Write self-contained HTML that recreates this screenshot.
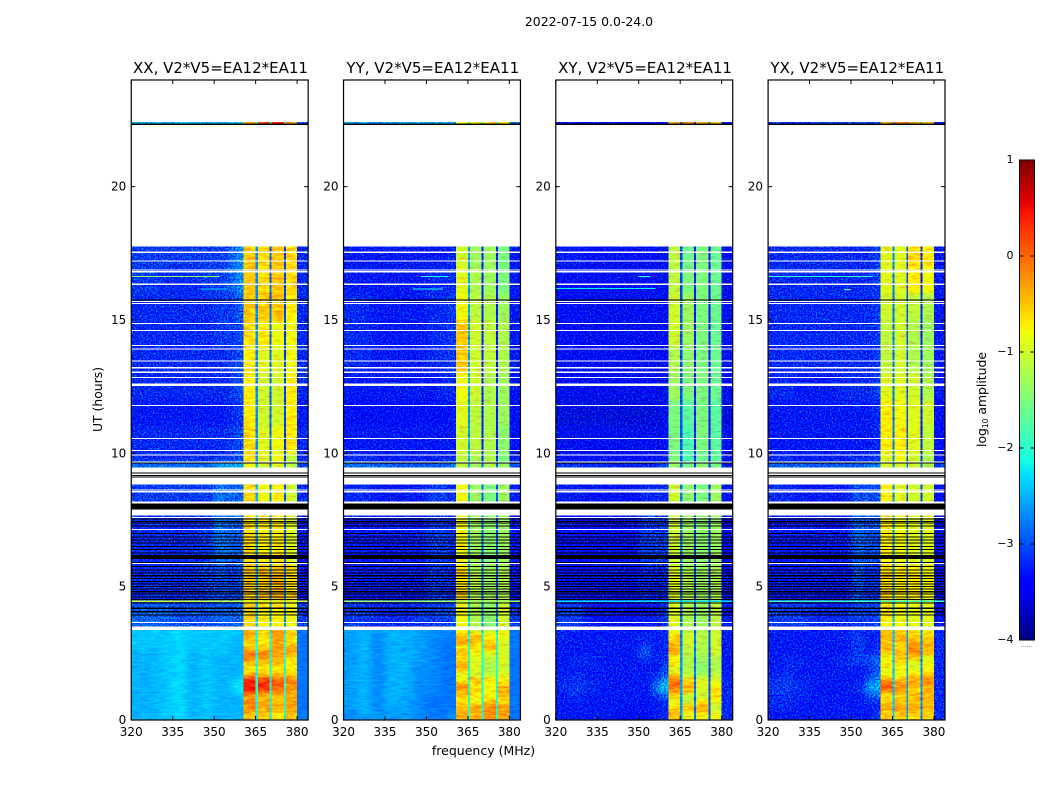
<!DOCTYPE html>
<html lang="en">
<head>
<meta charset="utf-8">
<title>2022-07-15 dynamic spectra</title>
<style>
html,body{margin:0;padding:0;background:#fff;}
svg{display:block;font-family:"DejaVu Sans","Liberation Sans",sans-serif;fill:#000;}
</style>
</head>
<body>
<svg id="figure" xmlns="http://www.w3.org/2000/svg" width="1050" height="800" viewBox="0 0 1050 800">
<defs>
<filter id="noise-strong" filterUnits="userSpaceOnUse" x="120" y="70" width="840" height="660" color-interpolation-filters="sRGB">
<feGaussianBlur in="SourceGraphic" stdDeviation="3 2.5" result="b0"/>
<feColorMatrix in="b0" type="matrix" values="1 0 0 0 0  0 1 0 0 0  0 0 1 0 0  0 0 0 0 1" result="b"/>
<feTurbulence type="fractalNoise" baseFrequency="0.62" numOctaves="2" seed="4" result="t"/>
<feColorMatrix in="t" type="matrix" values="0 0 0 0 0.5  1 0 0 0 0  0 0.6 0 0 0.2  0 0 0 0 1" result="n"/>
<feComposite in="b" in2="n" operator="arithmetic" k1="0" k2="1" k3="1.5" k4="-0.75" result="c"/>
<feComposite in="c" in2="SourceGraphic" operator="in"/>
</filter>
<filter id="noise-soft" filterUnits="userSpaceOnUse" x="120" y="70" width="840" height="660" color-interpolation-filters="sRGB">
<feGaussianBlur in="SourceGraphic" stdDeviation="0 2.5" result="b0"/>
<feColorMatrix in="b0" type="matrix" values="1 0 0 0 0  0 1 0 0 0  0 0 1 0 0  0 0 0 0 1" result="b"/>
<feTurbulence type="fractalNoise" baseFrequency="0.12 0.45" numOctaves="2" seed="9" result="t"/>
<feColorMatrix in="t" type="matrix" values="0 0 0 0 0.5  1 0 0 0 0  0 0 0 0 0.5  0 0 0 0 1" result="n"/>
<feComposite in="b" in2="n" operator="arithmetic" k1="0" k2="1" k3="0.6" k4="-0.3" result="c"/>
<feComposite in="c" in2="SourceGraphic" operator="in"/>
</filter>
<filter id="noise-smooth" filterUnits="userSpaceOnUse" x="120" y="70" width="840" height="660" color-interpolation-filters="sRGB">
<feGaussianBlur in="SourceGraphic" stdDeviation="4 2.5" result="b0"/>
<feColorMatrix in="b0" type="matrix" values="1 0 0 0 0  0 1 0 0 0  0 0 1 0 0  0 0 0 0 1" result="b"/>
<feTurbulence type="fractalNoise" baseFrequency="0.1 0.5" numOctaves="2" seed="2" result="t"/>
<feColorMatrix in="t" type="matrix" values="0 0 0 0 0.5  1 0 0 0 0  0 0 0 0 0.5  0 0 0 0 1" result="n"/>
<feComposite in="b" in2="n" operator="arithmetic" k1="0" k2="1" k3="0.3" k4="-0.15" result="c"/>
<feComposite in="c" in2="SourceGraphic" operator="in"/>
</filter>
</defs>
<text x="589" y="26" text-anchor="middle" font-size="12.45">2022-07-15 0.0-24.0</text>
<text x="483.5" y="755" text-anchor="middle" font-size="12.5">frequency (MHz)</text>
<text transform="translate(102 399.5) rotate(-90)" text-anchor="middle" font-size="12.4">UT (hours)</text>
<text transform="translate(986 399.5) rotate(-90)" text-anchor="middle" font-size="12.4">log<tspan font-size="7.5" dy="2">10</tspan><tspan dy="-2"> amplitude</tspan></text>
<text x="1026.5" y="647" text-anchor="middle" font-size="6" fill="#555">......</text>
</svg>
<script>
// Frequency column edges in MHz: nine background columns, then band / notch pairs, then the tail.
const freqEdges = [320,325,330,335,340,345,350,355,358,360.7,365,365.8,370,370.7,375.2,375.9,380,384];
// Time blocks in UT hours.
const epochStart = [0,0.2,0.4,0.6,0.8,1,1.2,1.4,1.6,1.8,2,2.2,2.4,2.6,2.8,3,3.2,3.37,4.4,5.8,8.18,9.47,9.65,10,11,12,13,14,15,16,17,22.375];
const epochEnd = [0.2,0.4,0.6,0.8,1,1.2,1.4,1.6,1.8,2,2.2,2.4,2.6,2.8,3,3.2,3.37,4.4,5.8,7.675,8.85,9.65,10,11,12,13,14,15,16,17,17.75,22.43];
// log10 amplitude x 10, one row per time block, one value per frequency column.
const xxLevels = [
[-25,-25,-24,-23,-25,-24,-25,-25,-25,-5,-20,-6,-21,-7,-20,-5,-28],
[-25,-25,-24,-23,-25,-24,-25,-25,-25,-3,-20,-4,-21,-6,-20,-4,-28],
[-25,-25,-24,-23,-25,-24,-25,-25,-25,-2,-20,-3,-21,-3,-20,-3,-28],
[-25,-25,-24,-23,-25,-24,-25,-25,-25,-1,-20,-3,-21,-5,-20,-3,-28],
[-25,-25,-24,-23,-25,-24,-25,-25,-24,-4,-20,-6,-21,-5,-20,-4,-28],
[-25,-25,-24,-23,-25,-24,-25,-24,-22,4,-20,2,-21,-1,-20,-3,-28],
[-25,-25,-24,-23,-25,-24,-25,-24,-22,4,-20,3,-21,1,-20,-2,-28],
[-25,-25,-24,-23,-25,-24,-25,-24,-23,4,-20,3,-21,1,-20,-1,-28],
[-25,-25,-24,-23,-25,-24,-25,-25,-24,-4,-20,-5,-21,-5,-20,-6,-28],
[-25,-25,-24,-23,-25,-24,-25,-25,-25,-7,-20,-7,-21,-7,-20,-7,-28],
[-25,-25,-24,-23,-25,-24,-25,-25,-25,-5,-20,-6,-21,-5,-20,-7,-28],
[-25,-25,-24,-23,-25,-24,-25,-25,-25,-2,-20,-3,-21,-4,-20,-7,-28],
[-25,-25,-24,-23,-25,-24,-24,-25,-25,-1,-20,-1,-21,-3,-20,-3,-28],
[-24,-24,-24,-23,-24,-24,-24,-25,-25,-5,-20,-6,-21,-3,-20,-3,-28],
[-24,-24,-24,-23,-24,-24,-24,-24,-25,-6,-20,-7,-21,-4,-20,-6,-28],
[-24,-24,-24,-23,-24,-24,-24,-24,-25,-4,-20,-6,-21,-3,-20,-6,-28],
[-24,-24,-24,-23,-24,-24,-24,-24,-24,-3,-20,-5,-21,-2,-20,-5,-28],
[-29,-29,-29,-30,-30,-30,-29,-29,-29,-6,-24,-7,-26,-7,-27,-8,-31],
[-32,-32,-32,-32,-32,-31,-30,-31,-30,-5,-26,-5,-28,-4,-28,-6,-33],
[-32,-32,-32,-32,-32,-31,-28,-29,-29,-6,-26,-7,-28,-7,-29,-9,-33],
[-31,-31,-31,-31,-31,-31,-28,-29,-29,-6,-25,-8,-28,-7,-29,-10,-32],
[-28,-28,-28,-28,-28,-28,-25,-25,-24,-8,-25,-10,-27,-9,-28,-11,-30],
[-32,-32,-32,-32,-32,-32,-31,-31,-30,-6,-27,-9,-29,-8,-31,-11,-32],
[-32,-32,-32,-32,-32,-32,-32,-31,-30,-6,-27,-9,-29,-8,-31,-7,-32],
[-33,-33,-33,-33,-33,-33,-33,-32,-31,-7,-27,-10,-29,-10,-31,-7,-33],
[-32,-32,-32,-32,-32,-32,-32,-31,-30,-7,-27,-10,-29,-10,-31,-7,-32],
[-32,-32,-32,-32,-32,-32,-32,-31,-30,-7,-27,-9,-29,-9,-31,-8,-32],
[-32,-32,-32,-32,-32,-32,-31,-31,-30,-6,-27,-7,-29,-8,-31,-8,-32],
[-32,-32,-32,-32,-32,-32,-31,-31,-29,-5,-27,-5,-29,-5,-31,-7,-32],
[-31,-31,-32,-32,-32,-31,-31,-29,-27,-5,-27,-6,-29,-5,-31,-6,-32],
[-31,-31,-31,-31,-31,-31,-31,-29,-27,-5,-27,-6,-29,-5,-31,-6,-32],
[-25,-25,-25,-25,-25,-25,-24,-24,-24,-2,-20,3,-20,4,-20,-2,-29]
];
const yyLevels = [
[-27,-26,-26,-26,-26,-27,-28,-28,-26,-3,-20,-4,-21,-2,-20,-3,-28],
[-27,-25,-27,-26,-26,-27,-28,-28,-27,-4,-20,-4,-21,-2,-20,-3,-28],
[-26,-25,-27,-25,-26,-27,-28,-28,-28,-5,-20,-3,-21,-2,-20,-2,-28],
[-26,-25,-27,-25,-26,-27,-28,-28,-28,-7,-20,-8,-21,-5,-20,-7,-28],
[-26,-25,-27,-25,-25,-27,-28,-28,-28,-6,-20,-7,-21,-8,-20,-5,-28],
[-26,-25,-27,-25,-25,-27,-27,-28,-28,-3,-20,-6,-21,-8,-20,-3,-28],
[-26,-25,-27,-25,-25,-27,-27,-28,-28,-2,-20,-7,-21,-8,-20,-5,-28],
[-26,-25,-27,-25,-25,-27,-27,-28,-28,-8,-20,-4,-21,-7,-20,-7,-28],
[-26,-25,-27,-25,-25,-27,-27,-28,-28,-9,-20,-10,-21,-11,-20,-9,-28],
[-26,-25,-27,-25,-25,-27,-27,-28,-28,-5,-20,-9,-21,-12,-20,-10,-28],
[-26,-25,-27,-25,-25,-26,-27,-28,-28,-3,-20,-9,-21,-12,-20,-10,-28],
[-26,-25,-27,-25,-25,-26,-27,-28,-28,-7,-20,-9,-21,-11,-20,-9,-28],
[-26,-25,-27,-25,-25,-26,-27,-28,-28,-4,-20,-8,-21,-9,-20,-10,-28],
[-26,-25,-27,-25,-25,-26,-27,-28,-28,-8,-20,-6,-21,-4,-20,-9,-28],
[-26,-25,-27,-25,-25,-26,-27,-28,-28,-3,-20,-5,-21,-6,-20,-10,-28],
[-26,-25,-27,-25,-25,-26,-27,-27,-28,-4,-20,-4,-21,-7,-20,-8,-28],
[-26,-25,-26,-25,-25,-26,-27,-27,-27,-7,-21,-8,-22,-9,-21,-8,-28],
[-31,-31,-32,-32,-32,-31,-31,-31,-30,-8,-23,-12,-27,-14,-28,-10,-31],
[-33,-33,-33,-33,-33,-33,-31,-32,-32,-6,-25,-12,-29,-13,-30,-12,-33],
[-33,-33,-33,-33,-33,-33,-31,-31,-32,-8,-25,-13,-29,-14,-30,-13,-33],
[-32,-32,-33,-33,-33,-33,-31,-31,-32,-8,-25,-13,-29,-15,-30,-13,-33],
[-28,-28,-28,-29,-29,-29,-29,-29,-27,-11,-25,-13,-28,-12,-28,-13,-30],
[-32,-32,-33,-33,-33,-33,-33,-32,-32,-11,-26,-12,-32,-12,-33,-15,-33],
[-33,-33,-33,-33,-33,-33,-33,-33,-33,-10,-26,-11,-32,-12,-33,-14,-34],
[-34,-34,-34,-34,-34,-34,-34,-34,-33,-9,-26,-11,-32,-12,-33,-13,-34],
[-33,-33,-33,-33,-33,-33,-33,-32,-32,-8,-26,-10,-32,-12,-33,-13,-34],
[-32,-32,-33,-33,-33,-33,-32,-32,-31,-5,-26,-10,-32,-11,-33,-12,-33],
[-32,-32,-33,-33,-33,-33,-32,-32,-31,-5,-26,-10,-32,-11,-33,-12,-33],
[-32,-32,-33,-33,-33,-33,-32,-32,-31,-8,-26,-11,-32,-12,-33,-13,-33],
[-33,-33,-33,-33,-33,-33,-32,-32,-32,-9,-26,-12,-32,-13,-33,-15,-33],
[-33,-33,-33,-33,-33,-33,-33,-33,-32,-10,-26,-13,-32,-13,-33,-15,-33],
[-26,-26,-26,-26,-26,-26,-26,-26,-26,-7,-20,-7,-20,-6,-20,-7,-29]
];
const xyLevels = [
[-33,-33,-33,-33,-34,-34,-34,-33,-32,-5,-26,-9,-28,-8,-30,-8,-32],
[-33,-33,-33,-33,-34,-34,-34,-33,-32,-4,-26,-7,-28,-5,-30,-9,-32],
[-33,-33,-33,-33,-33,-34,-34,-33,-32,-7,-26,-4,-28,-4,-30,-11,-32],
[-33,-32,-33,-33,-33,-33,-34,-33,-31,-9,-26,-11,-28,-7,-30,-8,-32],
[-33,-32,-33,-33,-33,-33,-33,-31,-29,-6,-26,-11,-28,-11,-30,-6,-32],
[-32,-31,-32,-33,-33,-33,-33,-28,-25,-2,-26,-5,-28,-10,-30,-6,-32],
[-32,-31,-32,-33,-33,-33,-33,-28,-24,0,-26,-4,-28,-9,-30,-8,-32],
[-32,-32,-32,-33,-33,-33,-33,-30,-26,-1,-26,-6,-28,-9,-30,-9,-32],
[-33,-32,-33,-33,-33,-33,-33,-32,-29,-6,-26,-11,-28,-13,-30,-11,-33],
[-33,-33,-33,-33,-33,-33,-33,-33,-30,-10,-26,-12,-28,-14,-30,-12,-33],
[-33,-32,-32,-33,-33,-33,-33,-33,-31,-6,-26,-12,-28,-14,-30,-12,-33],
[-33,-32,-32,-33,-33,-33,-31,-33,-32,-8,-27,-12,-28,-13,-30,-12,-33],
[-33,-33,-33,-33,-33,-33,-30,-33,-32,-4,-27,-11,-28,-12,-30,-10,-33],
[-33,-33,-33,-33,-33,-33,-30,-33,-32,-3,-27,-11,-28,-12,-30,-10,-33],
[-33,-33,-33,-33,-33,-33,-32,-33,-32,-5,-27,-10,-28,-12,-30,-10,-33],
[-32,-33,-33,-33,-33,-33,-32,-33,-32,-6,-27,-10,-28,-11,-30,-10,-33],
[-33,-33,-33,-33,-33,-33,-33,-33,-32,-8,-27,-11,-28,-12,-30,-10,-33],
[-31,-31,-33,-34,-34,-34,-33,-33,-31,-9,-28,-12,-30,-13,-31,-11,-33],
[-34,-34,-34,-34,-34,-34,-32,-33,-32,-9,-28,-12,-31,-13,-32,-12,-35],
[-34,-34,-34,-34,-34,-34,-31,-31,-31,-10,-28,-13,-31,-14,-32,-13,-35],
[-33,-33,-34,-34,-34,-34,-32,-32,-32,-10,-28,-14,-31,-15,-32,-13,-35],
[-31,-31,-32,-32,-32,-32,-32,-31,-30,-13,-28,-15,-30,-14,-31,-15,-33],
[-34,-34,-34,-34,-34,-34,-34,-34,-33,-15,-30,-18,-33,-16,-34,-17,-35],
[-35,-35,-35,-35,-35,-35,-35,-35,-34,-15,-30,-18,-33,-15,-34,-17,-35],
[-36,-36,-36,-36,-36,-36,-36,-36,-35,-15,-30,-17,-33,-15,-34,-17,-36],
[-35,-35,-35,-35,-35,-35,-35,-35,-35,-13,-30,-15,-33,-15,-34,-16,-35],
[-35,-35,-35,-35,-35,-35,-35,-35,-34,-12,-30,-14,-33,-15,-34,-16,-35],
[-34,-34,-35,-35,-35,-35,-35,-35,-34,-10,-30,-13,-33,-15,-34,-16,-35],
[-34,-34,-35,-35,-35,-35,-34,-34,-34,-10,-30,-13,-33,-15,-34,-16,-35],
[-34,-34,-34,-34,-35,-35,-34,-34,-34,-11,-30,-15,-33,-15,-34,-16,-35],
[-33,-33,-34,-34,-34,-34,-34,-34,-34,-11,-30,-16,-33,-15,-34,-16,-35],
[-34,-34,-34,-34,-34,-34,-34,-34,-34,-4,-30,-3,-30,-4,-30,-5,-35]
];
const yxLevels = [
[-33,-33,-33,-33,-33,-33,-33,-33,-31,-6,-24,-6,-26,-7,-27,-6,-32],
[-33,-33,-33,-33,-33,-33,-33,-33,-32,-5,-24,-4,-26,-4,-27,-5,-32],
[-32,-32,-33,-33,-33,-33,-33,-33,-32,-3,-24,-3,-26,-4,-27,-4,-32],
[-32,-32,-33,-33,-33,-33,-33,-32,-31,-6,-24,-5,-26,-5,-27,-5,-32],
[-32,-32,-32,-33,-33,-33,-33,-30,-29,-7,-24,-6,-26,-4,-27,-3,-32],
[-31,-31,-32,-33,-33,-33,-32,-27,-26,-1,-24,-3,-26,-6,-27,-5,-32],
[-31,-31,-32,-33,-33,-33,-32,-27,-25,1,-24,-2,-26,-4,-27,-3,-32],
[-32,-31,-32,-33,-33,-33,-33,-29,-27,-3,-24,-4,-26,-3,-27,-2,-32],
[-32,-32,-33,-33,-33,-33,-33,-31,-29,-8,-24,-8,-26,-7,-27,-5,-32],
[-33,-32,-33,-33,-33,-33,-33,-32,-30,-9,-24,-8,-26,-9,-27,-7,-32],
[-33,-32,-32,-33,-33,-32,-31,-31,-29,-7,-24,-7,-26,-10,-27,-8,-32],
[-33,-32,-33,-33,-33,-32,-31,-30,-29,-8,-24,-5,-26,-6,-27,-9,-32],
[-33,-33,-33,-33,-33,-33,-31,-32,-31,-6,-24,-4,-26,-2,-27,-5,-32],
[-33,-33,-33,-33,-33,-33,-31,-33,-32,-4,-24,-6,-26,-2,-27,-4,-32],
[-33,-33,-33,-33,-33,-33,-31,-33,-32,-5,-24,-5,-26,-3,-27,-4,-32],
[-33,-33,-33,-33,-33,-32,-31,-33,-32,-4,-24,-4,-26,-6,-27,-6,-32],
[-33,-33,-33,-33,-33,-33,-32,-33,-32,-4,-24,-5,-26,-5,-27,-7,-32],
[-31,-31,-31,-32,-32,-32,-31,-31,-30,-7,-25,-8,-28,-9,-30,-9,-33],
[-33,-33,-33,-33,-33,-33,-30,-32,-31,-6,-27,-7,-30,-7,-30,-8,-34],
[-33,-33,-33,-33,-33,-33,-29,-30,-30,-7,-27,-8,-30,-9,-30,-9,-34],
[-32,-32,-33,-33,-33,-33,-30,-30,-30,-7,-27,-9,-30,-10,-30,-10,-34],
[-29,-29,-29,-29,-29,-29,-29,-28,-27,-9,-26,-10,-28,-10,-28,-12,-31],
[-32,-32,-33,-33,-33,-33,-32,-32,-31,-9,-28,-8,-30,-10,-32,-12,-33],
[-33,-33,-33,-33,-33,-33,-33,-33,-32,-7,-28,-7,-30,-9,-32,-11,-34],
[-33,-33,-33,-33,-33,-33,-33,-33,-32,-7,-28,-8,-30,-9,-32,-10,-34],
[-32,-32,-33,-33,-33,-32,-32,-32,-31,-9,-28,-9,-30,-10,-32,-12,-33],
[-32,-32,-32,-32,-32,-32,-32,-32,-31,-11,-28,-10,-30,-12,-32,-13,-33],
[-32,-32,-32,-32,-32,-32,-32,-32,-31,-11,-28,-10,-30,-12,-32,-13,-33],
[-32,-32,-32,-32,-32,-32,-32,-32,-31,-10,-28,-10,-30,-11,-32,-12,-33],
[-32,-32,-32,-32,-32,-32,-32,-32,-31,-9,-28,-9,-30,-7,-32,-8,-33],
[-32,-32,-32,-32,-32,-32,-32,-32,-31,-9,-28,-9,-30,-6,-32,-7,-33],
[-31,-31,-31,-31,-31,-31,-31,-31,-30,-3,-26,-1,-26,-3,-26,-5,-33]
];
const panelTitles = ["XX, V2*V5=EA12*EA11","YY, V2*V5=EA12*EA11","XY, V2*V5=EA12*EA11","YX, V2*V5=EA12*EA11"];
const freqTicks = [320,335,350,365,380];
const hourTicks = [0,5,10,15,20];
const colorTicks = [1,0,-1,-2,-3,-4];
// Flagged single integrations (UT hour of the row).
const whiteRows = [17.54,17.22,16.87,16.81,16.34,15.7,15.62,14.87,14.6,14.04,13.91,13.46,13.21,13.04,12.84,12.59,12.54,11.8,10.56,10.1,9.94,9.67,8.63,8.56,8.18,7.6,7.15,5.87,3.66];
const blackRows = [15.75,9.64,9.27,9.17,9.11,7.54,7.44,7.38,7.28,7,6.87,6.75,6.63,6.5,6.4,6.27,5.91,5.75,5.63,5.52,5.41,5.31,5.19,5.1,5,4.91,4.81,4.73,4.62,4.52,4.38,4.19,4.06,3.94];
// Flagged spans: start hour, end hour.
const whiteSpanStart = [9.29,9.09,7.675,3.37,22.43];
const whiteSpanEnd = [9.47,8.85,7.9,3.5,22.45];
const blackSpanStart = [8.0,7.9,6.04,22.32];
const blackSpanEnd = [8.12,8.0,6.19,22.375];
// Bright broadband row at this hour, value x 10 per panel.
const brightHour = 4.46;
const brightLevels = [-10,-13,-23,-19];
// RFI line: hour, start and end MHz, value x 10, per panel.
const rfiHour = [16.63,16.63,16.63,16.63];
const rfiFrom = [320,348,350,320];
const rfiTo = [352,358,354,358];
const rfiLevel = [-14,-21,-20,-20];
const rfiHourB = [16.17,16.17,16.18,16.15];
const rfiFromB = [345,345,320,347.5];
const rfiToB = [355,356,356,350];
const rfiLevelB = [-24,-21,-22,-16];

const levelTables = [xxLevels,yyLevels,xyLevels,yxLevels];
const panelNames = ["xx","yy","xy","yx"];
const panelLeft = [131.25,343.53,555.81,768.09];
const panelWidth = 176.9;
const svgNS = "http://www.w3.org/2000/svg";
const fig = document.getElementById("figure");

function xScale(p,f){return panelLeft[p]+(f-320)/64*panelWidth;}
function yScale(h){return 720-h/24*640;}
function jet(t){
  const c=function(x){return Math.max(0,Math.min(1,x));};
  const r=t<0.89?c((t-0.35)/0.31):1-(t-0.89)/0.11*0.5;
  const g=t<0.64?c((t-0.125)/0.25):c((0.91-t)/0.27);
  const b=t<0.11?0.5+t/0.11*0.5:c((0.65-t)/0.31);
  return "rgb("+Math.round(r*255)+","+Math.round(g*255)+","+Math.round(b*255)+")";
}
function colorOf(v){return jet((v+4)/5);}
function mk(tag,attrs,parent){
  const el=document.createElementNS(svgNS,tag);
  for(const k in attrs){el.setAttribute(k,attrs[k]);}
  parent.appendChild(el);
  return el;
}
function rowRect(p,h0,h1,f0,f1,fill,parent){
  const y0=yScale(h1),y1=yScale(h0);
  const x0=xScale(p,f0),x1=xScale(p,f1);
  return mk("rect",{x:x0,y:y0,width:x1-x0,height:Math.max(y1-y0,0.6),fill:fill,"shape-rendering":"crispEdges"},parent);
}

for(let p=0;p<4;p++){
  const g=mk("g",{},fig);
  
  

  const title=mk("text",{x:panelLeft[p]+panelWidth/2+0.8,y:73,"text-anchor":"middle","font-size":"15"},g);
  title.textContent=panelTitles[p];
  
  

  const noisy=mk("g",{filter:"url(#noise-strong)"},g);
  
  
  const smooth=mk("g",{filter:"url(#noise-smooth)"},g);
  
  
  const soft=mk("g",{filter:"url(#noise-soft)"},g);
  
  

  const table=levelTables[p];
  const smoothBottom=(p<2);
  for(let r=0;r<table.length;r++){
    for(let c=0;c<freqEdges.length-1;c++){
      const isBand=c>=9&&c<16;
      const isSmooth=smoothBottom&&r<17;
      const parent=isBand?soft:(isSmooth?smooth:noisy);
      const cell=rowRect(p,epochStart[r],epochEnd[r],freqEdges[c],freqEdges[c+1],colorOf(table[r][c]/10),parent);
      
      
    }
  }

  const bright=rowRect(p,brightHour-0.03,brightHour+0.03,320,384,colorOf(brightLevels[p]/10),g);
  
  

  const rfiA=rowRect(p,rfiHour[p]-0.02,rfiHour[p]+0.02,rfiFrom[p],rfiTo[p],colorOf(rfiLevel[p]/10),g);
  
  
  const rfiB=rowRect(p,rfiHourB[p]-0.02,rfiHourB[p]+0.02,rfiFromB[p],rfiToB[p],colorOf(rfiLevelB[p]/10),g);
  
  

  for(let i=0;i<whiteRows.length;i++){
    const w=rowRect(p,whiteRows[i]-0.02,whiteRows[i]+0.02,320,384,"#fff",g);
    
    
  }
  for(let i=0;i<whiteSpanStart.length;i++){
    const w=rowRect(p,whiteSpanStart[i],whiteSpanEnd[i],320,384,"#fff",g);
    
    
  }
  for(let i=0;i<blackRows.length;i++){
    const b=rowRect(p,blackRows[i]-0.02,blackRows[i]+0.02,320,384,"#000",g);
    
    
  }
  for(let i=0;i<blackSpanStart.length;i++){
    const b=rowRect(p,blackSpanStart[i],blackSpanEnd[i],320,384,"#000",g);
    
    
  }

  const frame=mk("rect",{x:panelLeft[p],y:80,width:panelWidth,height:640,fill:"none",stroke:"#000","stroke-width":"1.2"},g);
  
  

  for(let i=0;i<freqTicks.length;i++){
    const x=xScale(p,freqTicks[i]);
    const t1=mk("line",{x1:x,x2:x,y1:720,y2:716,stroke:"#000","stroke-width":"1"},g);
    
    
    const t2=mk("line",{x1:x,x2:x,y1:80,y2:84,stroke:"#000","stroke-width":"1"},g);
    
    
    const lab=mk("text",{x:x,y:736,"text-anchor":"middle","font-size":"12"},g);
    lab.textContent=freqTicks[i];
    
    
  }
  for(let i=0;i<hourTicks.length;i++){
    const y=yScale(hourTicks[i]);
    const t1=mk("line",{x1:panelLeft[p],x2:panelLeft[p]+4,y1:y,y2:y,stroke:"#000","stroke-width":"1"},g);
    
    
    const t2=mk("line",{x1:panelLeft[p]+panelWidth-4,x2:panelLeft[p]+panelWidth,y1:y,y2:y,stroke:"#000","stroke-width":"1"},g);
    
    
    const lab=mk("text",{x:panelLeft[p]-5,y:y+4,"text-anchor":"end","font-size":"12"},g);
    lab.textContent=hourTicks[i];
    
    
  }
}

// Colorbar
const cbLeft=1019.5,cbWidth=15,cbTop=160,cbHeight=480;
function cbY(v){return cbTop+(1-v)/5*cbHeight;}
const cb=mk("g",{},fig);


for(let i=0;i<240;i++){
  const v0=-4+i*5/240;
  const s=mk("rect",{x:cbLeft,y:cbY(v0+5/240),width:cbWidth,height:cbHeight/240+0.5,fill:colorOf(v0+2.5/240),"shape-rendering":"crispEdges"},cb);
  
  
}
const cbFrame=mk("rect",{x:cbLeft,y:cbTop,width:cbWidth,height:cbHeight,fill:"none",stroke:"#000","stroke-width":"1"},cb);


for(let i=0;i<colorTicks.length;i++){
  const y=cbY(colorTicks[i]);
  const a=mk("line",{x1:cbLeft,x2:cbLeft+4,y1:y,y2:y,stroke:"#000","stroke-width":"1"},cb);
  
  
  const b=mk("line",{x1:cbLeft+cbWidth-4,x2:cbLeft+cbWidth,y1:y,y2:y,stroke:"#000","stroke-width":"1"},cb);
  
  
  const lab=mk("text",{x:1013.5,y:y+3,"text-anchor":"end","font-size":"11"},cb);
  lab.textContent=colorTicks[i]<0?"\u2212"+Math.abs(colorTicks[i]):String(colorTicks[i]);
  
  
}
</script>
</body>
</html>
